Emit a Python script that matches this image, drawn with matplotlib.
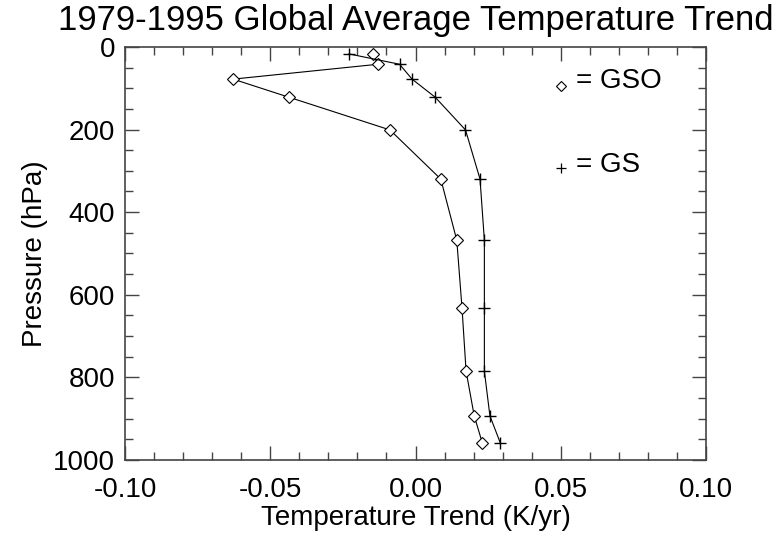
import matplotlib.pyplot as plt
from matplotlib.ticker import MultipleLocator

plt.rcParams['font.family'] = ['Liberation Sans', 'DejaVu Sans']

# pressure levels (hPa)
pressure = [17, 42, 78, 122, 201, 320, 468, 632, 785, 893, 959]

# temperature trends (K/yr)
gso = [-0.0148, -0.0129, -0.0628, -0.0435, -0.0088, 0.0087, 0.0142, 0.0160, 0.0174, 0.0202, 0.0230]
gs = [-0.0229, -0.0055, -0.0012, 0.0068, 0.0172, 0.0222, 0.0237, 0.0237, 0.0237, 0.0256, 0.0292]

fig = plt.figure(figsize=(7.78, 5.36), dpi=100)
ax = fig.add_axes([0.1607, 0.1418, 0.7468, 0.7707])

ax.plot(gso, pressure, color='black', lw=0.8, marker='D', ms=6.5,
        mfc='white', mec='black', mew=0.8)
ax.plot(gs, pressure, color='black', lw=0.8, marker='+', ms=8, mew=1.0)

ax.set_xlim(-0.1, 0.1)
ax.set_ylim(1000, 0)
ax.xaxis.set_major_locator(MultipleLocator(0.05))
ax.xaxis.set_minor_locator(MultipleLocator(0.01))
ax.yaxis.set_major_locator(MultipleLocator(200))
ax.yaxis.set_minor_locator(MultipleLocator(50))
ax.xaxis.set_major_formatter(plt.FormatStrFormatter('%.2f'))

ax.tick_params(which='both', direction='in', top=True, right=True,
               labelsize=20, color='#444444', width=1.0)
ax.tick_params(which='major', length=10)
ax.tick_params(which='minor', length=5.5)
ax.tick_params(axis='x', which='major', pad=12)
ax.tick_params(axis='y', which='major', pad=7)
for s in ax.spines.values():
    s.set_color('#444444')
    s.set_linewidth(1.2)

# legend drawn as text
ax.plot([0.050], [95], marker='D', ms=5, mfc='white', mec='black', mew=0.8,
        ls='none')
ax.text(0.0552, 100, '= GSO', fontsize=20, va='baseline', ha='left')
ax.plot([0.050], [294], marker='+', ms=7, color='black', mew=0.9, ls='none')
ax.text(0.0552, 304, '= GS', fontsize=20, va='baseline', ha='left')

fig.text(0.534, 0.944, '1979-1995 Global Average Temperature Trend',
         fontsize=25, ha='center', va='baseline')
ax.set_xlabel('Temperature Trend (K/yr)', fontsize=20, labelpad=2)
ax.set_ylabel('Pressure (hPa)', fontsize=20, labelpad=4)

fig.savefig('out.png', dpi=100)
